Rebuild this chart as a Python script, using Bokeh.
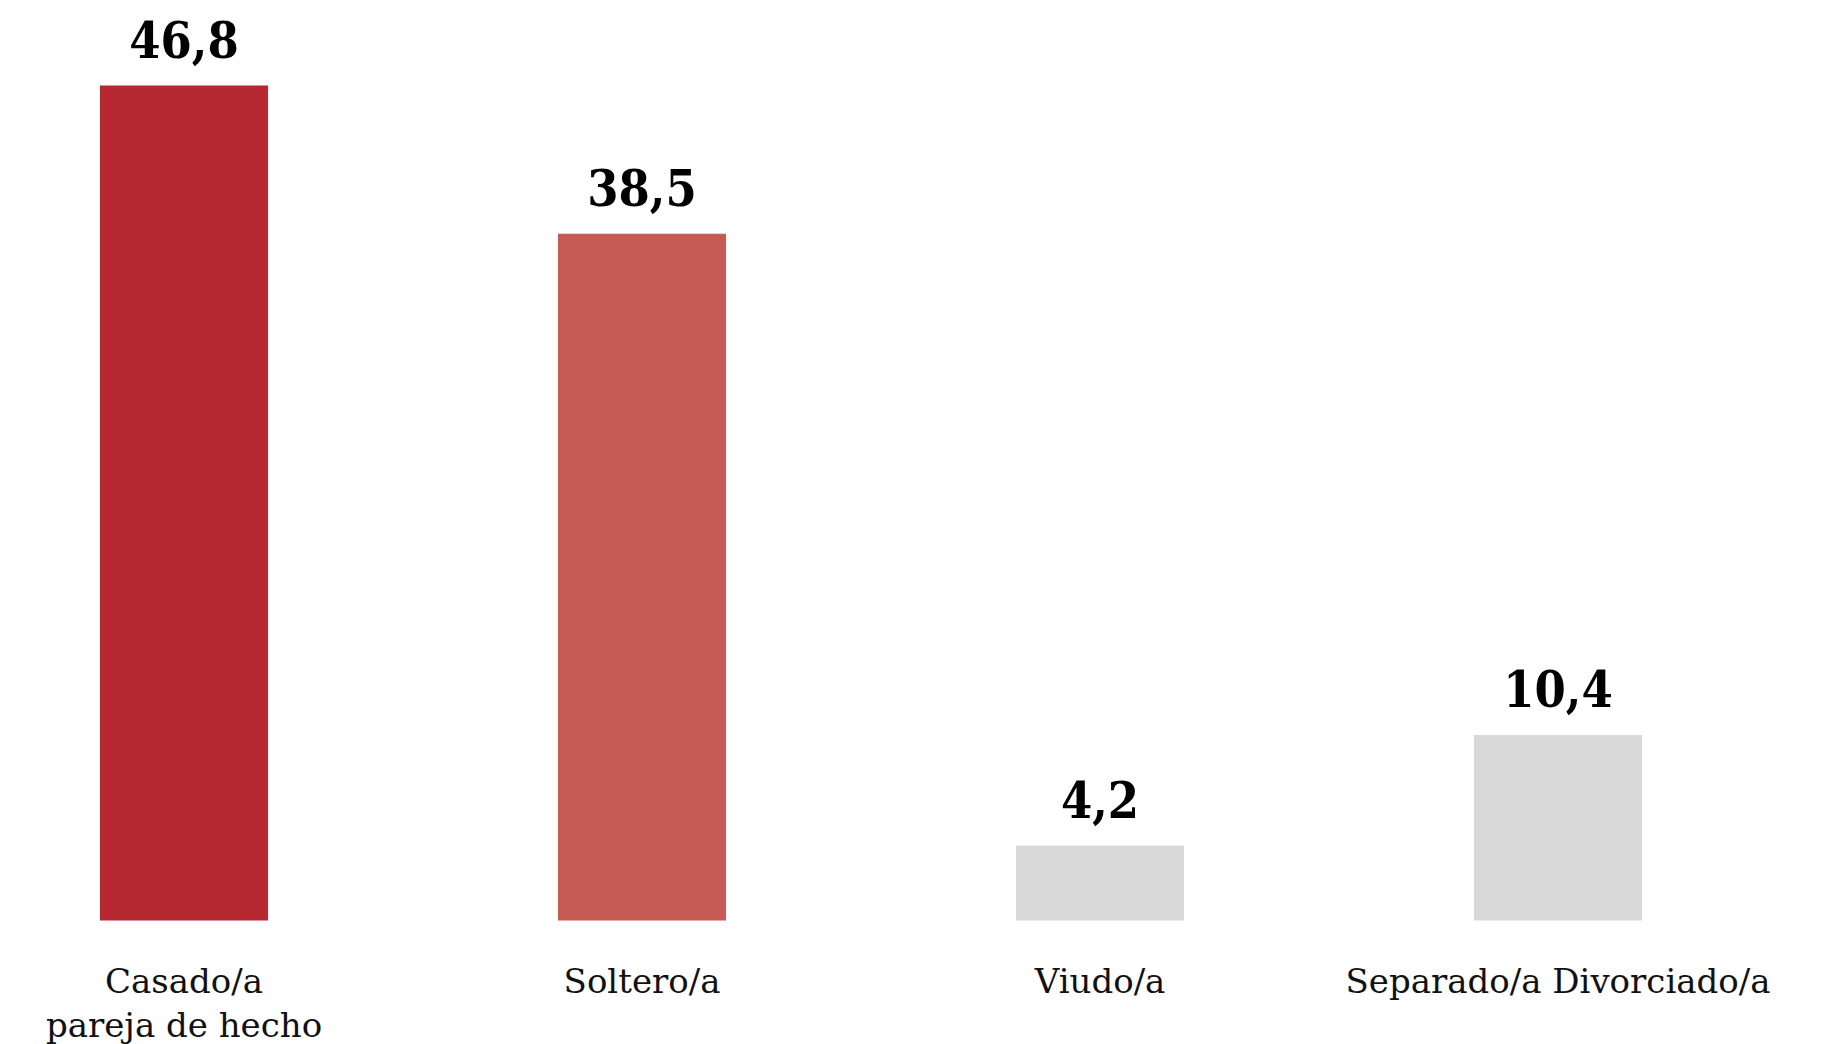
from bokeh.plotting import figure
from bokeh.models import ColumnDataSource, Range1d
from bokeh.core.properties import value
from bokeh.embed import file_html
from bokeh.resources import INLINE

categories = ["Casado/a\npareja de hecho", "Soltero/a", "Viudo/a", "Separado/a Divorciado/a"]
values = [46.8, 38.5, 4.2, 10.4]
value_labels = ["46,8", "38,5", "4,2", "10,4"]
colors = ["#B5282F", "#C75A55", "#D9D9D9", "#D9D9D9"]

xs = list(range(len(categories)))
src = ColumnDataSource(dict(x=xs, top=values, lab=value_labels, cat=categories,
                            color=colors, base=[0] * len(xs)))

p = figure(width=1839, height=1044, output_backend="svg", toolbar_location=None,
           x_range=Range1d(-0.4007, 3.6146), y_range=Range1d(-6.95, 51.57),
           min_border=0, outline_line_color=None)
p.axis.visible = False
p.grid.visible = False
p.background_fill_color = "white"
p.border_fill_color = "white"

p.vbar(x="x", top="top", width=0.367, fill_color="color", line_color=None, source=src)

p.text(x="x", y="top", text="lab", source=src, text_align="center",
       text_baseline="alphabetic", y_offset=-46,
       text_font=value("DejaVu Serif Condensed"), text_font_style="bold",
       text_font_size="50px", text_color="#000000")

p.text(x="x", y="base", text="cat", source=src, text_align="center",
       text_baseline="top", y_offset=40, text_line_height=1.12,
       text_font=value("DejaVu Serif"), text_font_size="34px", text_color="#111111")

open("out.html", "w").write(file_html(p, INLINE))
